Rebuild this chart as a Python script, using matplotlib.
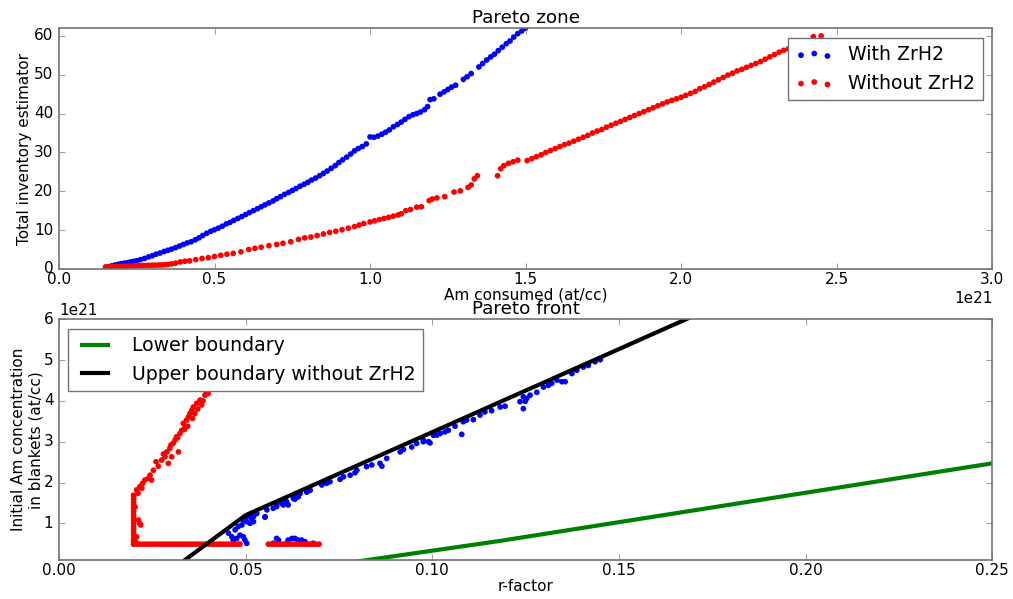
import numpy as np
import matplotlib
matplotlib.use("Agg")
import matplotlib.pyplot as plt

plt.style.use("classic")
plt.rcParams["figure.facecolor"] = "white"
plt.rcParams["savefig.facecolor"] = "white"
plt.rcParams["font.family"] = ["DejaVu Sans"]
plt.rcParams["font.size"] = 11
plt.rcParams["legend.fontsize"] = 13.6
plt.rcParams["xtick.major.pad"] = 2.0
plt.rcParams["axes.labelpad"] = 0.5
plt.rcParams["axes.titlepad"] = 4.0

# ---------------- Pareto zone: Am consumed (1e21 at/cc) vs inventory ----------------
with_zrh2_x = [
    0.150, 0.160, 0.170, 0.180, 0.190, 0.200, 0.210, 0.220, 0.230, 0.240,
    0.250, 0.262, 0.275, 0.288, 0.300, 0.312, 0.325, 0.338, 0.350, 0.362,
    0.375, 0.388, 0.400, 0.412, 0.425, 0.438, 0.450, 0.462, 0.475, 0.488,
    0.500, 0.512, 0.525, 0.538, 0.550, 0.562, 0.575, 0.588, 0.600, 0.612,
    0.625, 0.638, 0.650, 0.662, 0.675, 0.688, 0.700, 0.712, 0.725, 0.738,
    0.750, 0.762, 0.775, 0.788, 0.800, 0.812, 0.825, 0.838, 0.850, 0.862,
    0.875, 0.888, 0.900, 0.912, 0.925, 0.938, 0.950, 0.962, 0.975, 0.988,
    1.000, 1.012, 1.025, 1.038, 1.050, 1.062, 1.075, 1.088, 1.100, 1.112,
    1.125, 1.138, 1.150, 1.162, 1.175, 1.185, 1.193, 1.205, 1.225, 1.238,
    1.250, 1.262, 1.275, 1.300, 1.312, 1.325, 1.350, 1.362, 1.375, 1.388,
    1.400, 1.412, 1.425, 1.438, 1.450, 1.462, 1.475, 1.488, 1.500, 1.512,
]
with_zrh2_y = [
    0.4, 0.6, 0.8, 1.0, 1.2, 1.35, 1.5, 1.6, 1.8, 1.95,
    2.1, 2.4, 2.7, 3.1, 3.4, 3.8, 4.1, 4.5, 4.8, 5.1,
    5.5, 5.9, 6.3, 6.7, 7.0, 7.5, 8.0, 8.6, 9.2, 9.7,
    10.1, 10.5, 11.0, 11.6, 12.0, 12.5, 13.0, 13.5, 14.0, 14.5,
    15.0, 15.5, 16.0, 16.5, 17.0, 17.5, 18.1, 18.6, 19.2, 19.7,
    20.2, 20.7, 21.3, 21.8, 22.3, 22.9, 23.4, 24.0, 24.6, 25.2,
    25.9, 26.6, 27.4, 28.1, 28.8, 29.6, 30.4, 31.0, 31.5, 32.2,
    34.0, 33.9, 34.2, 34.7, 35.2, 35.8, 36.6, 37.2, 37.8, 38.5,
    39.2, 39.7, 40.0, 40.4, 41.0, 41.8, 43.6, 43.8, 45.0, 45.6,
    46.2, 46.8, 47.3, 48.8, 49.5, 50.3, 52.0, 52.9, 53.8, 54.6,
    55.3, 56.2, 57.1, 58.0, 58.7, 59.7, 60.6, 61.3, 62.0, 62.8,
]

without_zrh2_x = [
    0.150, 0.160, 0.170, 0.180, 0.190, 0.200, 0.210, 0.220, 0.230, 0.240,
    0.250, 0.260, 0.270, 0.280, 0.290, 0.300, 0.310, 0.320, 0.330, 0.340,
    0.350, 0.362, 0.375, 0.390, 0.405, 0.420, 0.440,
    0.460, 0.480, 0.500, 0.520, 0.540, 0.560, 0.585, 0.610, 0.630, 0.650,
    0.675, 0.700, 0.720, 0.745, 0.770, 0.790, 0.810, 0.830, 0.850, 0.870,
    0.890, 0.910, 0.930, 0.950, 0.965, 0.980, 1.000, 1.015, 1.030, 1.045,
    1.060, 1.075, 1.090, 1.100, 1.115, 1.130, 1.150, 1.165, 1.190, 1.200,
    1.215, 1.240, 1.270, 1.290, 1.315, 1.325, 1.335, 1.345, 1.410, 1.420,
    1.430, 1.445, 1.460, 1.475, 1.505, 1.520, 1.535, 1.550, 1.565, 1.580,
    1.595, 1.610, 1.625, 1.640, 1.655, 1.670, 1.685, 1.700, 1.715, 1.730,
    1.745, 1.760, 1.775, 1.790, 1.805, 1.820, 1.835, 1.850, 1.865, 1.880,
    1.895, 1.910, 1.925, 1.940, 1.955, 1.970, 1.985, 2.000, 2.015, 2.030,
    2.045, 2.060, 2.075, 2.090, 2.105, 2.120, 2.135, 2.150, 2.165, 2.180,
    2.195, 2.210, 2.225, 2.240, 2.255, 2.270, 2.285, 2.300, 2.315, 2.330,
    2.345, 2.360, 2.380, 2.400, 2.425, 2.450,
]
without_zrh2_y = [
    0.5, 0.53, 0.57, 0.6, 0.63, 0.66, 0.7, 0.73, 0.76, 0.8,
    0.83, 0.86, 0.89, 0.91, 0.93, 0.96, 0.98, 1.0, 1.03, 1.08,
    1.15, 1.3, 1.5, 1.8, 2.0, 2.1, 2.4,
    2.7, 2.9, 3.2, 3.5, 3.8, 4.0, 4.4, 5.0, 5.3, 5.6,
    6.0, 6.3, 6.6, 7.0, 7.6, 8.0, 8.2, 8.6, 9.0, 9.4,
    9.7, 10.1, 10.5, 10.9, 11.3, 11.7, 12.1, 12.4, 12.7, 13.0,
    13.3, 13.6, 13.9, 14.2, 15.0, 15.3, 15.9, 16.0, 17.6, 18.0,
    18.3, 18.6, 19.8, 20.1, 21.0, 21.6, 23.2, 24.0, 24.0, 25.8,
    26.6, 27.2, 27.6, 28.0, 27.9, 28.4, 28.9, 29.4, 30.0, 30.5,
    31.0, 31.5, 32.0, 32.4, 32.9, 33.4, 33.9, 34.4, 35.0, 35.5,
    35.9, 36.5, 37.0, 37.5, 38.0, 38.5, 39.0, 39.5, 40.0, 40.5,
    41.0, 41.5, 42.0, 42.5, 43.0, 43.4, 43.8, 44.2, 44.7, 45.2,
    45.7, 46.4, 46.9, 47.5, 48.1, 48.7, 49.3, 49.9, 50.4, 51.0,
    51.4, 51.9, 52.4, 52.9, 53.4, 54.0, 54.6, 55.2, 55.8, 56.3,
    56.7, 57.2, 57.8, 58.5, 59.8, 60.0,
]

# ---------------- Pareto front: r-factor vs initial Am (1e21 at/cc) ----------------
front_blue_r = [
    0.0454, 0.0463, 0.0467, 0.0476, 0.0485, 0.0494, 0.0498, 0.0503, 0.0472, 0.0480,
    0.0490, 0.0503, 0.0512, 0.0516, 0.0521, 0.0512, 0.0530, 0.0552, 0.0557, 0.0583,
    0.0597, 0.0606, 0.0614, 0.0628, 0.0637, 0.0646, 0.0664,
    0.0574, 0.0583, 0.0588, 0.0610, 0.0614, 0.0624, 0.0632, 0.0641, 0.0650, 0.0659, 0.0681,
    0.0494, 0.0503, 0.0516, 0.0521, 0.0552, 0.0574, 0.0583, 0.0601, 0.0610, 0.0632,
    0.0641, 0.0664, 0.0673, 0.0704, 0.0717, 0.0726, 0.0753, 0.0762, 0.0780, 0.0793,
    0.0798, 0.0824, 0.0838, 0.0860, 0.0865, 0.0878, 0.0914, 0.0923, 0.0945, 0.0958,
    0.0976, 0.0994, 0.1012,
    0.0976, 0.0990, 0.1003, 0.1021, 0.1034, 0.1043, 0.1061, 0.1079, 0.1083, 0.1092,
    0.1110, 0.1128, 0.1141, 0.1159, 0.1182, 0.1195, 0.1235, 0.1244, 0.1249, 0.1244,
    0.1253, 0.1262, 0.1280, 0.1298, 0.1311, 0.1320, 0.1334, 0.1347, 0.1356, 0.1374,
    0.1387, 0.1405, 0.1418, 0.1436, 0.1450,
]
front_blue_y = [
    0.76, 0.67, 0.59, 0.63, 0.71, 0.67, 0.59, 0.51, 0.84, 0.92,
    0.96, 1.04, 1.00, 1.12, 1.16, 1.20, 1.24, 1.16, 1.33, 1.45,
    1.49, 1.57, 1.45, 1.61, 1.65, 1.73, 1.77,
    0.51, 0.63, 0.59, 0.51, 0.59, 0.63, 0.63, 0.59, 0.59, 0.55, 0.51,
    1.08, 1.16, 1.24, 1.04, 1.15, 1.37, 1.41, 1.45, 1.53, 1.59,
    1.65, 1.77, 1.81, 1.94, 1.98, 2.02, 2.08, 2.14, 2.18, 2.24,
    2.30, 2.39, 2.43, 2.47, 2.40, 2.59, 2.75, 2.81, 2.87, 2.96,
    3.00, 2.97, 3.16,
    3.04, 3.00, 3.16, 3.20, 3.24, 3.28, 3.38, 3.18, 3.49, 3.53,
    3.54, 3.65, 3.73, 3.76, 3.85, 3.87, 3.98, 4.10, 3.99, 3.81,
    4.06, 4.14, 4.21, 4.34, 4.38, 4.43, 4.51, 4.47, 4.47, 4.67,
    4.75, 4.83, 4.87, 4.96, 5.01,
]

front_red_r = [
    # vertical column near r = 0.02
    0.0200, 0.0200, 0.0200, 0.0200, 0.0200, 0.0200, 0.0200, 0.0200, 0.0200, 0.0200,
    0.0200, 0.0200, 0.0200, 0.0200, 0.0200, 0.0200, 0.0200, 0.0200,
    0.0213, 0.0216, 0.0219, 0.0208, 0.0205, 0.0204,
    # rising branch
    0.0208, 0.0217, 0.0224, 0.0230, 0.0239, 0.0244, 0.0248, 0.0253, 0.0260, 0.0275,
    0.0284, 0.0289, 0.0293, 0.0297, 0.0302, 0.0306, 0.0311, 0.0320, 0.0315, 0.0324,
    0.0329, 0.0333, 0.0338, 0.0342, 0.0347, 0.0351, 0.0356, 0.0360, 0.0364, 0.0369,
    0.0378, 0.0382, 0.0391, 0.0400, 0.0410, 0.0420, 0.0430,
    0.0212, 0.0222, 0.0266, 0.0280, 0.0300, 0.0318, 0.0336, 0.0345, 0.0358, 0.0372,
    0.0386, 0.0395,
    # flat band at the minimum concentration
    0.0200, 0.0208, 0.0216, 0.0224, 0.0232, 0.0240, 0.0248, 0.0256, 0.0264, 0.0272,
    0.0280, 0.0288, 0.0296, 0.0304, 0.0312, 0.0320, 0.0328, 0.0336, 0.0344, 0.0352,
    0.0360, 0.0368, 0.0376, 0.0384, 0.0392, 0.0400, 0.0408, 0.0416, 0.0424, 0.0432,
    0.0440, 0.0448, 0.0456, 0.0464, 0.0472, 0.0480, 0.0485,
    0.0561, 0.0569, 0.0577, 0.0585, 0.0593, 0.0601, 0.0609, 0.0617, 0.0625, 0.0633,
    0.0641, 0.0649, 0.0657, 0.0665, 0.0673, 0.0681, 0.0689, 0.0697,
]
front_red_y = [
    0.50, 0.56, 0.62, 0.70, 0.78, 0.85, 0.92, 1.00, 1.08, 1.15,
    1.22, 1.30, 1.38, 1.45, 1.52, 1.60, 1.66, 1.69,
    1.08, 1.00, 0.96, 0.67, 0.55, 1.40,
    1.82, 1.90, 1.98, 2.06, 2.10, 2.18, 2.06, 2.30, 2.51, 2.55,
    2.63, 2.75, 2.47, 2.84, 2.63, 2.96, 3.04, 2.75, 3.12, 3.20,
    3.28, 3.45, 3.36, 3.53, 3.61, 3.69, 3.77, 3.85, 3.69, 3.94,
    4.02, 3.90, 4.14, 4.18, 4.40, 4.65, 4.90,
    1.74, 1.86, 2.40, 2.70, 2.92, 3.10, 3.30, 3.38, 3.57, 3.80,
    4.00, 4.22,
    0.49, 0.49, 0.49, 0.49, 0.49, 0.49, 0.49, 0.49, 0.49, 0.49,
    0.49, 0.49, 0.49, 0.49, 0.49, 0.49, 0.49, 0.49, 0.49, 0.49,
    0.49, 0.49, 0.49, 0.49, 0.49, 0.49, 0.49, 0.49, 0.49, 0.49,
    0.49, 0.49, 0.49, 0.49, 0.49, 0.49, 0.49,
    0.49, 0.49, 0.49, 0.49, 0.49, 0.49, 0.49, 0.49, 0.49, 0.49,
    0.49, 0.49, 0.49, 0.49, 0.49, 0.49, 0.49, 0.49,
]

lower_r = [0.075, 0.1182, 0.250]
lower_y = [0.0, 0.57, 2.47]
upper_r = [0.030, 0.050, 0.180]
upper_y = [-0.15, 1.20, 6.49]

E21 = 1e21
DOT = 17

fig, (ax1, ax2) = plt.subplots(2, 1, figsize=(10.13, 5.99), dpi=100)
fig.subplots_adjust(left=0.0582, right=0.9795, top=0.953, bottom=0.065, hspace=0.209)

for ax in (ax1, ax2):
    for sp in ax.spines.values():
        sp.set_edgecolor("0.45")
        sp.set_linewidth(1.2)
    ax.tick_params(colors="0.45", labelcolor="black")

# top panel
ax1.scatter(np.array(with_zrh2_x) * E21, with_zrh2_y, s=DOT, c="b",
            edgecolors="none", label="With ZrH2")
ax1.scatter(np.array(without_zrh2_x) * E21, without_zrh2_y, s=DOT, c="r",
            edgecolors="none", label="Without ZrH2")
ax1.set_xlim(0, 3e21)
ax1.set_ylim(0, 62)
ax1.set_xticks(np.arange(0, 3.01, 0.5) * E21)
ax1.set_yticks(np.arange(0, 61, 10))
ax1.set_xlabel("Am consumed (at/cc)")
ax1.set_ylabel("Total inventory estimator")
ax1.yaxis.set_label_coords(-0.029, 0.5)
ax1.set_title("Pareto zone")
leg1 = ax1.legend(loc="upper right")
leg1.get_frame().set_edgecolor("0.45")

# bottom panel
ax2.scatter(front_blue_r, np.array(front_blue_y) * E21, s=DOT, c="b", edgecolors="none")
ax2.scatter(front_red_r, np.array(front_red_y) * E21, s=DOT, c="r", edgecolors="none")
ax2.plot(lower_r, np.array(lower_y) * E21, color="g", lw=3, label="Lower boundary")
ax2.plot(upper_r, np.array(upper_y) * E21, color="k", lw=3,
         label="Upper boundary without ZrH2")
ax2.set_xlim(0, 0.25)
ax2.set_ylim(0.1e21, 6e21)
ax2.set_xticks(np.arange(0, 0.251, 0.05))
ax2.set_yticks(np.arange(1, 6.1, 1) * E21)
ax2.set_xlabel("r-factor")
ax2.set_ylabel("Initial Am concentration\nin blankets (at/cc)")
ax2.yaxis.set_label_coords(-0.017, 0.5)
ax2.set_title("Pareto front")
leg2 = ax2.legend(loc="upper left", handletextpad=0.95)
leg2.get_frame().set_edgecolor("0.45")

fig.savefig("out.png", dpi=100)
